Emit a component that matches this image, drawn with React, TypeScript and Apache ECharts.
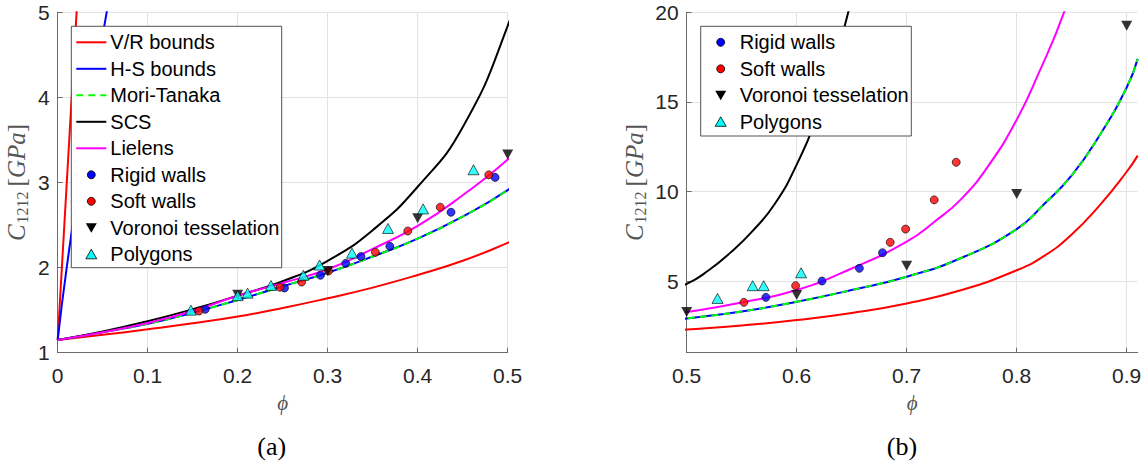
import React, { useEffect, useRef } from 'react';
import * as echarts from 'echarts';

// ---------- curve data (phi, C1212 in GPa) ----------
const vrLowerPhi = [0, 0.05, 0.1, 0.15, 0.2, 0.25, 0.3, 0.35, 0.4, 0.45, 0.5, 0.55, 0.6, 0.65, 0.7, 0.75, 0.8, 0.825, 0.85, 0.875, 0.9, 0.91];
const vrLowerC = [1.15, 1.21, 1.275, 1.345, 1.425, 1.525, 1.64, 1.765, 1.913, 2.08, 2.29, 2.52, 2.82, 3.22, 3.75, 4.5, 5.6, 6.4, 7.6, 9.2, 11.1, 12.0];

const vrUpperPhi = [0, 0.021, 0.03];
const vrUpperC = [1.15, 5.0, 6.65];

const hsUpperPhi = [0, 0.01, 0.03, 0.0544, 0.07];
const hsUpperC = [1.15, 2.0, 3.45, 5.0, 5.9];

const hsLowerPhi = [0, 0.05, 0.1, 0.15, 0.2, 0.25, 0.3, 0.35, 0.4, 0.45, 0.5, 0.55, 0.6, 0.65, 0.7, 0.75, 0.8, 0.825, 0.85, 0.875, 0.9, 0.91];
const hsLowerC = [1.15, 1.24, 1.34, 1.47, 1.62, 1.78, 1.94, 2.13, 2.34, 2.6, 2.91, 3.3, 3.84, 4.5, 5.24, 6.3, 7.9, 9.3, 10.9, 13.1, 15.8, 17.4];

const moriTanakaPhi = hsLowerPhi;
const moriTanakaC = hsLowerC;

const scsPhi = [0, 0.05, 0.1, 0.15, 0.2, 0.25, 0.3, 0.35, 0.4, 0.45, 0.5, 0.52, 0.54, 0.56, 0.58, 0.6, 0.62, 0.64, 0.66];
const scsC = [1.15, 1.25, 1.37, 1.51, 1.67, 1.84, 2.08, 2.44, 2.95, 3.65, 4.84, 5.6, 6.6, 7.8, 9.3, 11.5, 14.5, 18.4, 23.5];

const lielensPhi = [0, 0.05, 0.1, 0.15, 0.2, 0.25, 0.3, 0.35, 0.4, 0.45, 0.5, 0.55, 0.6, 0.65, 0.7, 0.725, 0.75, 0.775, 0.8, 0.82, 0.843, 0.86];
const lielensC = [1.15, 1.24, 1.35, 1.49, 1.67, 1.82, 1.98, 2.22, 2.49, 2.85, 3.27, 3.8, 4.5, 5.7, 7.2, 8.3, 9.6, 11.5, 14.0, 16.6, 20.0, 23.4];

// ---------- simulation points ----------
const rigidA = [[0.164, 1.51], [0.252, 1.76], [0.292, 1.91], [0.32, 2.05], [0.337, 2.13], [0.369, 2.25], [0.437, 2.65], [0.486, 3.06]];
const softA = [[0.157, 1.49], [0.247, 1.77], [0.271, 1.83], [0.301, 1.96], [0.353, 2.18], [0.389, 2.43], [0.425, 2.71], [0.479, 3.09]];
const voronoiA = [[0.2, 1.68], [0.3, 1.96], [0.4, 2.58], [0.5, 3.33]];
const polygonsA = [[0.148, 1.5], [0.2, 1.67], [0.211, 1.7], [0.237, 1.79], [0.273, 1.91], [0.291, 2.03], [0.327, 2.17], [0.367, 2.46], [0.406, 2.69], [0.462, 3.15]];

const rigidB = [[0.572, 4.09], [0.623, 5.0], [0.657, 5.71], [0.678, 6.58]];
const softB = [[0.552, 3.81], [0.599, 4.74], [0.685, 7.16], [0.699, 7.9], [0.725, 9.53], [0.745, 11.63]];
const voronoiB = [[0.5, 3.27], [0.6, 4.22], [0.7, 5.85], [0.8, 9.86], [0.9, 19.25]];
const polygonsB = [[0.528, 4.03], [0.56, 4.74], [0.57, 4.74], [0.604, 5.46]];

// ---------- axis ticks ----------
const xTicksA = [0, 0.1, 0.2, 0.3, 0.4, 0.5];
const yTicksA = [1, 2, 3, 4, 5];
const xTicksB = [0.5, 0.6, 0.7, 0.8, 0.9];
const yTicksB = [5, 10, 15, 20];

const legendA = ['V/R bounds', 'H-S bounds', 'Mori-Tanaka', 'SCS', 'Lielens', 'Rigid walls', 'Soft walls', 'Voronoi tesselation', 'Polygons'];
const legendB = ['Rigid walls', 'Soft walls', 'Voronoi tesselation', 'Polygons'];

const zip = (xs: number[], ys: number[]) => xs.map((x, i) => [x, ys[i]]);

const AX = '#6b6b6b';
const LBL = '#262626';
const GRID = '#e3e3e3';
const TITLE = '#555555';
const SANS = 'Liberation Sans';
const SERIF = 'Liberation Serif';

function lineSeries(name: string, xs: number[], ys: number[], color: string, g: number, dashed = false) {
  return {
    type: 'line', name, xAxisIndex: g, yAxisIndex: g, data: zip(xs, ys),
    showSymbol: false, symbol: 'none', smooth: 0.5, clip: true, silent: true,
    lineStyle: { color, width: 2, type: dashed ? [7, 5] : 'solid' }, z: 2,
  };
}

function scatterSet(g: number, rigid: number[][], soft: number[][], vor: number[][], poly: number[][]) {
  return [
    { type: 'scatter', name: 'Rigid walls', xAxisIndex: g, yAxisIndex: g, data: rigid, symbol: 'circle', symbolSize: 8, clip: false, silent: true, itemStyle: { color: '#0000ff', borderColor: '#000', borderWidth: 0.8 }, z: 3 },
    { type: 'scatter', name: 'Soft walls', xAxisIndex: g, yAxisIndex: g, data: soft, symbol: 'circle', symbolSize: 8, clip: false, silent: true, itemStyle: { color: '#ff0000', borderColor: '#000', borderWidth: 0.8 }, z: 3 },
    { type: 'scatter', name: 'Voronoi tesselation', xAxisIndex: g, yAxisIndex: g, data: vor, symbol: 'triangle', symbolRotate: 180, symbolSize: [11, 10], clip: false, silent: true, itemStyle: { color: '#000' }, z: 3 },
    { type: 'scatter', name: 'Polygons', xAxisIndex: g, yAxisIndex: g, data: poly, symbol: 'triangle', symbolSize: [11, 10], clip: false, silent: true, itemStyle: { color: '#00ffff', borderColor: '#000', borderWidth: 0.8 }, z: 3 },
  ];
}

function curves(g: number) {
  return [
    lineSeries('V/R bounds', vrLowerPhi, vrLowerC, '#ff0000', g),
    lineSeries('V/R bounds', vrUpperPhi, vrUpperC, '#ff0000', g),
    lineSeries('H-S bounds', hsUpperPhi, hsUpperC, '#0000ff', g),
    lineSeries('H-S bounds', hsLowerPhi, hsLowerC, '#0000ff', g),
    lineSeries('Mori-Tanaka', moriTanakaPhi, moriTanakaC, '#00ff00', g, true),
    lineSeries('SCS', scsPhi, scsC, '#000000', g),
    lineSeries('Lielens', lielensPhi, lielensC, '#ff00ff', g),
  ];
}

// grid lines of panel (b) drawn at its labelled values, beneath the data
const gridLinesB = {
  type: 'line', name: 'grid-b', xAxisIndex: 1, yAxisIndex: 1, data: [], silent: true, z: 0,
  markLine: {
    silent: true, symbol: 'none', animation: false, label: { show: false }, z: 0,
    lineStyle: { color: GRID, width: 1, type: 'solid' },
    emphasis: { disabled: true },
    data: yTicksB.map((v) => ({ yAxis: v })),
  },
};

const yName = '{c|C}{s|1212}{sp| }{b|[}{i|GPa}{b|]}';
const yRich = {
  c: { fontFamily: SERIF, fontStyle: 'italic', fontSize: 25, color: TITLE },
  s: { fontFamily: SERIF, fontSize: 16, color: TITLE, padding: [12, 0, 0, 1] },
  sp: { fontSize: 18 },
  b: { fontFamily: SERIF, fontSize: 25, color: TITLE },
  i: { fontFamily: SERIF, fontStyle: 'italic', fontSize: 25, color: TITLE },
};

function axisCommon() {
  return {
    axisLine: { show: true, onZero: false, lineStyle: { color: AX, width: 1 } },
    axisTick: { show: true, inside: true, length: 5, lineStyle: { color: AX } },
    axisLabel: { color: LBL, fontSize: 21, fontFamily: SANS },
    splitLine: { show: true, lineStyle: { color: GRID, width: 1 } },
  };
}

// ---------- legend drawing ----------
function marker(kind: string, cx: number, cy: number) {
  if (kind === 'Rigid walls' || kind === 'Soft walls') {
    return { type: 'circle', shape: { cx, cy, r: 4 }, style: { fill: kind === 'Rigid walls' ? '#0000ff' : '#ff0000', stroke: '#000', lineWidth: 0.8 }, z: 101 };
  }
  if (kind === 'Voronoi tesselation') {
    return { type: 'polygon', shape: { points: [[cx - 5.5, cy - 4.5], [cx + 5.5, cy - 4.5], [cx, cy + 5]] }, style: { fill: '#000' }, z: 101 };
  }
  return { type: 'polygon', shape: { points: [[cx - 5.5, cy + 4.5], [cx + 5.5, cy + 4.5], [cx, cy - 5]] }, style: { fill: '#00ffff', stroke: '#000', lineWidth: 0.8 }, z: 101 };
}

const lineColors: Record<string, string> = { 'V/R bounds': '#ff0000', 'H-S bounds': '#0000ff', 'Mori-Tanaka': '#00ff00', SCS: '#000000', Lielens: '#ff00ff' };

function legendBox(items: string[], x: number, y: number, w: number, h: number) {
  const els: any[] = [
    { type: 'rect', shape: { x, y, width: w, height: h }, style: { fill: '#fff', stroke: '#262626', lineWidth: 0.8 }, z: 100 },
  ];
  items.forEach((it, i) => {
    const cy = y + 16 + i * 26.5;
    if (lineColors[it]) {
      els.push({
        type: 'line', shape: { x1: x + 5, y1: cy, x2: x + 35, y2: cy },
        style: { stroke: lineColors[it], lineWidth: 2, lineDash: it === 'Mori-Tanaka' ? [7, 5] : null }, z: 101,
      });
    } else {
      els.push(marker(it, x + 20, cy));
    }
    els.push({ type: 'text', x: x + 39, y: cy, style: { text: it, fill: '#000', font: `20px "${SANS}"`, textVerticalAlign: 'middle' }, z: 101 });
  });
  return els;
}

const option: any = {
  animation: false,
  backgroundColor: '#fff',
  grid: [
    { left: 57.7, top: 12.3, width: 450, height: 340.4 },
    { left: 686.7, top: 12.3, width: 451, height: 340.4 },
  ],
  xAxis: [
    {
      type: 'value', gridIndex: 0, min: 0, max: 0.5, interval: 0.1, ...axisCommon(),
      axisLabel: { ...axisCommon().axisLabel, margin: 12, customValues: xTicksA },
      axisTick: { ...axisCommon().axisTick, customValues: xTicksA },
      name: 'ϕ', nameLocation: 'middle', nameGap: 40,
      nameTextStyle: { fontFamily: SERIF, fontStyle: 'italic', fontSize: 21, color: TITLE },
    },
    {
      type: 'value', gridIndex: 1, min: 0.5, max: 0.91, interval: 0.1, ...axisCommon(),
      axisLabel: { ...axisCommon().axisLabel, margin: 12, customValues: xTicksB },
      axisTick: { ...axisCommon().axisTick, customValues: xTicksB },
      name: 'ϕ', nameLocation: 'middle', nameGap: 40,
      nameTextStyle: { fontFamily: SERIF, fontStyle: 'italic', fontSize: 21, color: TITLE },
    },
  ],
  yAxis: [
    {
      type: 'value', gridIndex: 0, min: 1, max: 5, interval: 1, ...axisCommon(),
      axisLabel: { ...axisCommon().axisLabel, margin: 8, customValues: yTicksA },
      axisTick: { ...axisCommon().axisTick, customValues: yTicksA },
      name: yName, nameLocation: 'middle', nameRotate: 90, nameGap: 27,
      nameTextStyle: { rich: yRich, color: TITLE },
    },
    {
      type: 'value', gridIndex: 1, min: 1, max: 20, splitNumber: 4, ...axisCommon(),
      axisLabel: { ...axisCommon().axisLabel, margin: 8, customValues: yTicksB },
      axisTick: { ...axisCommon().axisTick, customValues: yTicksB },
      splitLine: { show: false },
      name: yName, nameLocation: 'middle', nameRotate: 90, nameGap: 38,
      nameTextStyle: { rich: yRich, color: TITLE },
    },
  ],
  series: [
    ...curves(0),
    ...scatterSet(0, rigidA, softA, voronoiA, polygonsA),
    gridLinesB,
    ...curves(1),
    ...scatterSet(1, rigidB, softB, voronoiB, polygonsB),
  ],
  graphic: [
    ...legendBox(legendA, 71.3, 26.3, 210.4, 241.4),
    ...legendBox(legendB, 700.7, 26.3, 210.6, 109.7),
    { type: 'text', x: 271.7, y: 446.7, style: { text: '(a)', fill: '#000', font: `26px "${SERIF}"`, textAlign: 'center', textVerticalAlign: 'middle' }, z: 101 },
    { type: 'text', x: 902, y: 446.7, style: { text: '(b)', fill: '#000', font: `26px "${SERIF}"`, textAlign: 'center', textVerticalAlign: 'middle' }, z: 101 },
  ],
};

export default function App() {
  const ref = useRef<HTMLDivElement>(null);
  useEffect(() => {
    const chart = echarts.init(ref.current as HTMLDivElement, null, { renderer: 'svg' });
    chart.setOption(option);
    return () => chart.dispose();
  }, []);
  return <div ref={ref} style={{ position: 'fixed', left: 0, top: 0, width: 1146, height: 466, background: '#fff' }} />;
}
